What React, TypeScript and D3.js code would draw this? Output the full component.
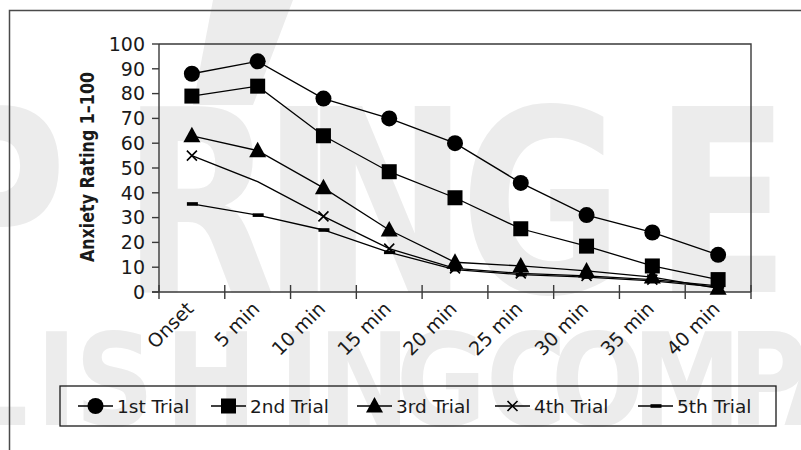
import React from "react";
import * as d3 from "d3";

// Time points on the horizontal axis
const categories = ["Onset", "5 min", "10 min", "15 min", "20 min", "25 min", "30 min", "35 min", "40 min"];

// Anxiety ratings (1–100) for each exposure trial
const trial1 = [88, 93, 78, 70, 60, 44, 31, 24, 15];
const trial2 = [79, 83, 63, 48.5, 38, 25.5, 18.5, 10.5, 5];
const trial3 = [63, 57, 42, 25, 12, 10.5, 8.5, 6, 1.5];
const trial4 = [55, 44.5, 30.5, 17.5, 9.5, 7.5, 6.5, 5, 2.5];
const trial5 = [35.5, 31, 25, 16, 9, 7, 6, 4.5, 2];

const seriesNames = ["1st Trial", "2nd Trial", "3rd Trial", "4th Trial", "5th Trial"];
const yTicks = [0, 10, 20, 30, 40, 50, 60, 70, 80, 90, 100];
const yTitle = "Anxiety Rating 1–100";

type MarkerKind = "circle" | "square" | "triangle" | "cross" | "dash";

const series: { name: string; values: number[]; marker: MarkerKind; hideMarkerAt?: number[] }[] = [
  { name: seriesNames[0], values: trial1, marker: "circle" },
  { name: seriesNames[1], values: trial2, marker: "square" },
  { name: seriesNames[2], values: trial3, marker: "triangle" },
  { name: seriesNames[3], values: trial4, marker: "cross", hideMarkerAt: [1] },
  { name: seriesNames[4], values: trial5, marker: "dash" },
];

const W = 801;
const H = 450;
const plot = { left: 159, right: 751, top: 44, bottom: 292 };
const FONT = "'DejaVu Sans', sans-serif";
const INK = "#1a1a1a";
const WATERMARK = "#ececec";

function Marker({ kind, x, y }: { kind: MarkerKind; x: number; y: number }) {
  switch (kind) {
    case "circle":
      return <circle cx={x} cy={y} r={8} fill="#000" />;
    case "square":
      return <rect x={x - 7.5} y={y - 7.5} width={15} height={15} fill="#000" />;
    case "triangle":
      return <path d={`M${x},${y - 9}L${x + 8.5},${y + 6.5}L${x - 8.5},${y + 6.5}Z`} fill="#000" />;
    case "cross":
      return (
        <path
          d={`M${x - 5},${y - 5}L${x + 5},${y + 5}M${x + 5},${y - 5}L${x - 5},${y + 5}`}
          stroke="#000"
          strokeWidth={1.6}
        />
      );
    case "dash":
      return <rect x={x - 5} y={y - 1.8} width={11} height={3.6} fill="#000" />;
  }
}

export default function App() {
  const x = d3.scaleBand<string>().domain(categories).range([plot.left, plot.right]).padding(0);
  const y = d3.scaleLinear().domain([0, 100]).range([plot.bottom, plot.top]);
  const cx = (i: number) => (x(categories[i]) as number) + x.bandwidth() / 2;

  const line = d3
    .line<number>()
    .x((_, i) => cx(i))
    .y((v) => y(v));

  const boundaries = categories.map((c) => x(c) as number).concat([plot.right]);

  // Legend layout
  const legendLeft = [78, 211, 357, 495, 638];
  const legendY = 406;

  // Background watermark: glyph start positions in screen px
  const topWord = "SPRINGER";
  const topX = [-222, -79, 122, 262, 302, 460, 654, 790];
  const topScale = 0.78;
  const bottomWord = "PUBLISHING COMPANY";
  const bottomX = [-300, -210, -125, -42, 36, 75, 165, 279, 318, 396, 470, 486, 551, 632, 728, 784, 870, 960];
  const bottomScale = 0.86;

  return (
    <svg
      width={W}
      height={H}
      viewBox={`0 0 ${W} ${H}`}
      style={{ position: "fixed", left: 0, top: 0, background: "#fff" }}
    >
      <rect x={0} y={0} width={W} height={H} fill="#fff" />

      {/* watermark */}
      <g fill={WATERMARK} fontFamily={FONT} fontWeight="bold">
        <path d="M213,0H293L253,105H193Z" />
        <text
          transform={`scale(${topScale},1)`}
          x={topX.map((v) => v / topScale).join(" ")}
          y={292}
          fontSize={255}
        >
          {topWord}
        </text>
        <text
          transform={`scale(${bottomScale},1)`}
          x={bottomX.map((v) => v / bottomScale).join(" ")}
          y={425}
          fontSize={128}
        >
          {bottomWord}
        </text>
      </g>

      {/* outer frame */}
      <path d={`M9.5,${H}V10.5H${W}`} fill="none" stroke="#4a4a4a" strokeWidth={1.5} />

      {/* plot frame (top and right) */}
      <path
        d={`M${plot.left},${plot.top}H${plot.right}V${plot.bottom}`}
        fill="none"
        stroke="#3a3a3a"
        strokeWidth={1.4}
      />

      {/* y axis */}
      <g fontFamily={FONT} fontSize={19} fill={INK}>
        <line x1={plot.left} x2={plot.left} y1={plot.top} y2={plot.bottom} stroke="#3a3a3a" strokeWidth={1.4} />
        {yTicks.map((t) => (
          <g key={t}>
            <line x1={plot.left - 7} x2={plot.left} y1={y(t)} y2={y(t)} stroke="#3a3a3a" strokeWidth={1.4} />
            <text x={plot.left - 14} y={y(t)} dy="0.36em" textAnchor="end">
              {t}
            </text>
          </g>
        ))}
      </g>

      {/* y title */}
      <text
        transform={`translate(94,167) rotate(-90)`}
        textAnchor="middle"
        fontFamily={FONT}
        fontWeight="bold"
        fontSize={19}
        textLength={190}
        lengthAdjust="spacingAndGlyphs"
        fill={INK}
      >
        {yTitle}
      </text>

      {/* x axis */}
      <g fontFamily={FONT} fontSize={19} fill={INK}>
        <line x1={plot.left - 7} x2={plot.right} y1={plot.bottom} y2={plot.bottom} stroke="#3a3a3a" strokeWidth={1.4} />
        {boundaries.map((bx, i) => (
          <line key={i} x1={bx} x2={bx} y1={plot.bottom - 7} y2={plot.bottom + 7} stroke="#3a3a3a" strokeWidth={1.4} />
        ))}
        {categories.map((c, i) => (
          <text key={c} transform={`translate(${cx(i) + 3},${plot.bottom + 18}) rotate(-45)`} textAnchor="end">
            {c}
          </text>
        ))}
      </g>

      {/* series */}
      {series.map((s) => (
        <g key={s.name}>
          <path d={line(s.values) as string} fill="none" stroke="#000" strokeWidth={1.3} />
          {s.values.map((v, i) =>
            s.hideMarkerAt && s.hideMarkerAt.includes(i) ? null : <Marker key={i} kind={s.marker} x={cx(i)} y={y(v)} />
          )}
        </g>
      ))}

      {/* legend */}
      <rect x={60} y={386} width={716} height={40} fill="none" stroke="#1a1a1a" strokeWidth={1.3} />
      <g fontFamily={FONT} fontSize={18.5} fill={INK}>
        {series.map((s, i) => (
          <g key={s.name}>
            <line x1={legendLeft[i]} x2={legendLeft[i] + 35} y1={legendY} y2={legendY} stroke="#000" strokeWidth={1.3} />
            <Marker kind={s.marker} x={legendLeft[i] + 17.5} y={legendY} />
            <text x={legendLeft[i] + 39} y={legendY} dy="0.36em">
              {s.name}
            </text>
          </g>
        ))}
      </g>
    </svg>
  );
}
